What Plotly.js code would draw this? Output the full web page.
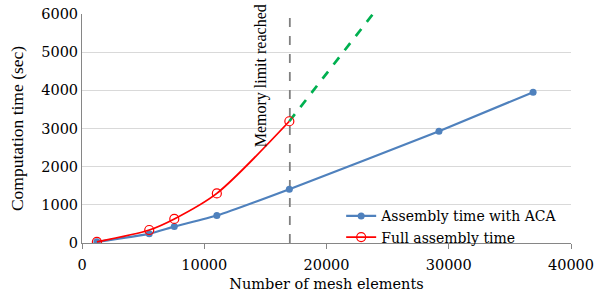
<!DOCTYPE html>
<html><head><meta charset="utf-8">
<script src="https://cdn.plot.ly/plotly-3.0.1.min.js"></script>
<style>body{margin:0;background:#fff}#c{width:595px;height:297px}</style>
</head><body><div id="c"></div>
<script>
const acaX = [1220, 5500, 7550, 11030, 16960, 29200, 36900];
const acaY = [30, 240, 430, 720, 1410, 2930, 3950];
const fullX = [1220, 5500, 7550, 11030, 16960];
const fullY = [30, 340, 630, 1300, 3190];
const extX = [16960, 23800];
const extY = [3190, 6000];
const limitX = 17000;
const xTicks = [0, 10000, 20000, 30000, 40000];
const yTicks = [0, 1000, 2000, 3000, 4000, 5000, 6000];

const hFont = {family: 'DejaVu Serif', color: '#000', size: 14.5};
const legFont = {family: 'DejaVu Serif', color: '#000', size: 14};
const vFont = {family: 'Liberation Serif', color: '#000', size: 17.5};
const annFont = {family: 'Liberation Serif', color: '#000', size: 16};
const data = [
  {x: [limitX, limitX], y: [0, 6060], mode: 'lines', line: {color: '#808080', width: 1.8, dash: 'dash'}, showlegend: false, hoverinfo: 'skip', cliponaxis: false},
  {x: extX, y: extY, mode: 'lines', line: {color: '#00B050', width: 2.7, dash: 'dash'}, showlegend: false},
  {x: acaX, y: acaY, mode: 'lines+markers', name: 'Assembly time with ACA', line: {color: '#4F81BD', width: 2.2, shape: 'spline', smoothing: 0.5}, marker: {symbol: 'circle', size: 7, color: '#4F81BD'}},
  {x: fullX, y: fullY, mode: 'lines+markers', name: 'Full assembly time', line: {color: '#FF0000', width: 1.8, shape: 'spline', smoothing: 0.8}, marker: {symbol: 'circle-open', size: 9, color: '#FF0000', line: {width: 1.2}}}
];
const layout = {
  width: 595, height: 297,
  margin: {l: 82, r: 24, t: 14, b: 54},
  paper_bgcolor: '#fff', plot_bgcolor: '#fff',
  font: hFont,
  xaxis: {range: [0, 40000], tickvals: xTicks, ticktext: xTicks.map(String), showgrid: false, zeroline: false,
    showline: true, linecolor: '#868686', linewidth: 1, ticks: 'outside', ticklen: 5, tickcolor: '#868686',
    ticklabeloverflow: 'allow', ticklabelstandoff: 4,
    title: {text: 'Number of mesh elements', font: hFont, standoff: 6}, tickfont: hFont},
  yaxis: {range: [0, 6000], tickvals: yTicks, ticktext: yTicks.map(String), showgrid: true, gridcolor: '#D9D9D9', gridwidth: 1,
    zeroline: false, showline: true, linecolor: '#868686', linewidth: 1, ticks: '',
    title: {text: 'Computation time (sec)', font: vFont, standoff: 13}, tickfont: hFont},
  legend: {x: 0.53, y: -0.045, xanchor: 'left', yanchor: 'bottom', bgcolor: 'rgba(255,255,255,0)', font: legFont, tracegroupgap: 0, itemwidth: 30},
  annotations: [{x: limitX, y: 6000, xref: 'x', yref: 'y', text: 'Memory limit reached', textangle: -90, showarrow: false,
    xanchor: 'right', yanchor: 'top', xshift: -18, yshift: 12, font: annFont}],
  showlegend: true
};
Plotly.newPlot('c', data, layout, {displayModeBar: false, staticPlot: true});
</script></body></html>
